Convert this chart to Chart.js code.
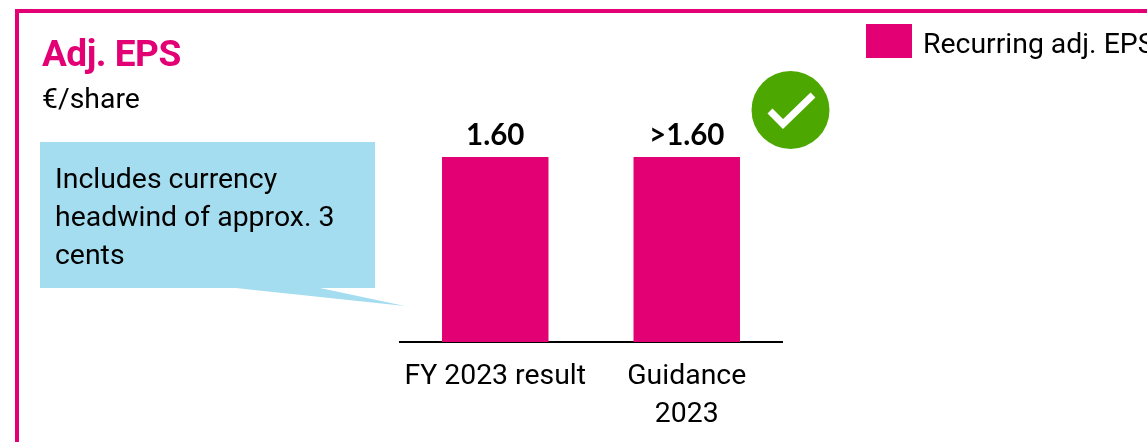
<!DOCTYPE html>
<html>
<head>
<meta charset="utf-8">
<title>Adj. EPS</title>
<script src="https://cdn.jsdelivr.net/npm/chart.js@4"></script>
<style>
    html, body { margin: 0; padding: 0; background: #fff; }
    body { width: 1147px; height: 442px; overflow: hidden; position: relative; font-family: Roboto, sans-serif; color: #000; }
    #chart-wrap { position: absolute; left: 0; top: 0; width: 1147px; height: 442px; }
    #frame { position: absolute; left: 15px; top: 9px; width: 1200px; height: 500px; border: 4px solid #e20074; box-sizing: border-box; }
    #title { position: absolute; left: 42px; top: 31px; font-size: 37px; line-height: 46px; font-weight: 700; color: #e20074; letter-spacing: -0.5px; }
    #unit { position: absolute; left: 42px; top: 81px; font-size: 28.4px; line-height: 36px; }
    #note { position: absolute; left: 55px; top: 160px; width: 310px; font-size: 28.4px; line-height: 38px; }
    #shapes { position: absolute; left: 0; top: 0; }
    #legend { position: absolute; left: 866px; top: 24px; white-space: nowrap; font-size: 28.4px; line-height: 40px; }
    #legend span { display: inline-block; vertical-align: top; }
    #legend .box { width: 46px; height: 34px; margin-right: 11px; }
</style>
</head>
<body>
<div id="frame"></div>
<svg id="shapes" width="1147" height="442">
    <polygon points="40,142 375,142 375,288 320,288 405,306 236,288 40,288" fill="#a4ddef"/>
    <circle cx="790.5" cy="110" r="39" fill="#4ca800"/>
    <polyline points="770,111 783,124 813,95" fill="none" stroke="#fff" stroke-width="7"/>
</svg>
<div id="chart-wrap"><canvas id="epsChart" width="1147" height="442"></canvas></div>
<div id="title">Adj. EPS</div>
<div id="unit">€/share</div>
<div id="note">Includes currency headwind of approx. 3 cents</div>
<div id="legend"></div>

<script>
// chart data
const categories = ['FY 2023 result', ['Guidance', '2023']];
const epsValues = [1.60, 1.60];
const valueLabels = ['1.60', '>1.60'];
const seriesName = 'Recurring adj. EPS';
const pink = '#e20074';

// Chart.js has no value labels of its own, so draw them above the bars
const valueLabelPlugin = {
    id: 'valueLabels',
    afterDatasetsDraw(chart) {
        const ctx = chart.ctx;
        ctx.save();
        ctx.font = '700 29.5px Lato';
        ctx.fillStyle = '#000';
        ctx.textAlign = 'center';
        ctx.textBaseline = 'bottom';
        chart.getDatasetMeta(0).data.forEach((bar, i) => {
            ctx.fillText(valueLabels[i], bar.x, bar.y - 7);
        });
        ctx.restore();
    }
};

const chart = new Chart(document.getElementById('epsChart').getContext('2d'), {
    type: 'bar',
    data: {
        labels: categories,
        datasets: [{
            label: seriesName,
            data: epsValues,
            backgroundColor: pink,
            barPercentage: 0.556,
            categoryPercentage: 1
        }]
    },
    options: {
        responsive: false,
        animation: false,
        layout: { padding: { left: 399.5, right: 364.5, top: 157, bottom: 0 } },
        plugins: {
            legend: { display: false },
            tooltip: { enabled: false }
        },
        scales: {
            x: {
                grid: { display: false, drawTicks: false },
                border: { display: true, color: '#000', width: 2 },
                ticks: {
                    color: '#000',
                    padding: 16,
                    maxRotation: 0,
                    font: { family: 'Roboto', size: 28.4, lineHeight: 38 / 28.4 }
                },
                afterFit(scale) { scale.height = 100; }
            },
            y: { display: false, min: 0, max: 1.6 }
        }
    },
    plugins: [valueLabelPlugin]
});

// legend built from the dataset
const legend = document.getElementById('legend');
chart.data.datasets.forEach(ds => {
    legend.innerHTML += `<span class="box" style="background:${ds.backgroundColor}"></span><span>${ds.label}</span>`;
});
</script>
</body>
</html>
